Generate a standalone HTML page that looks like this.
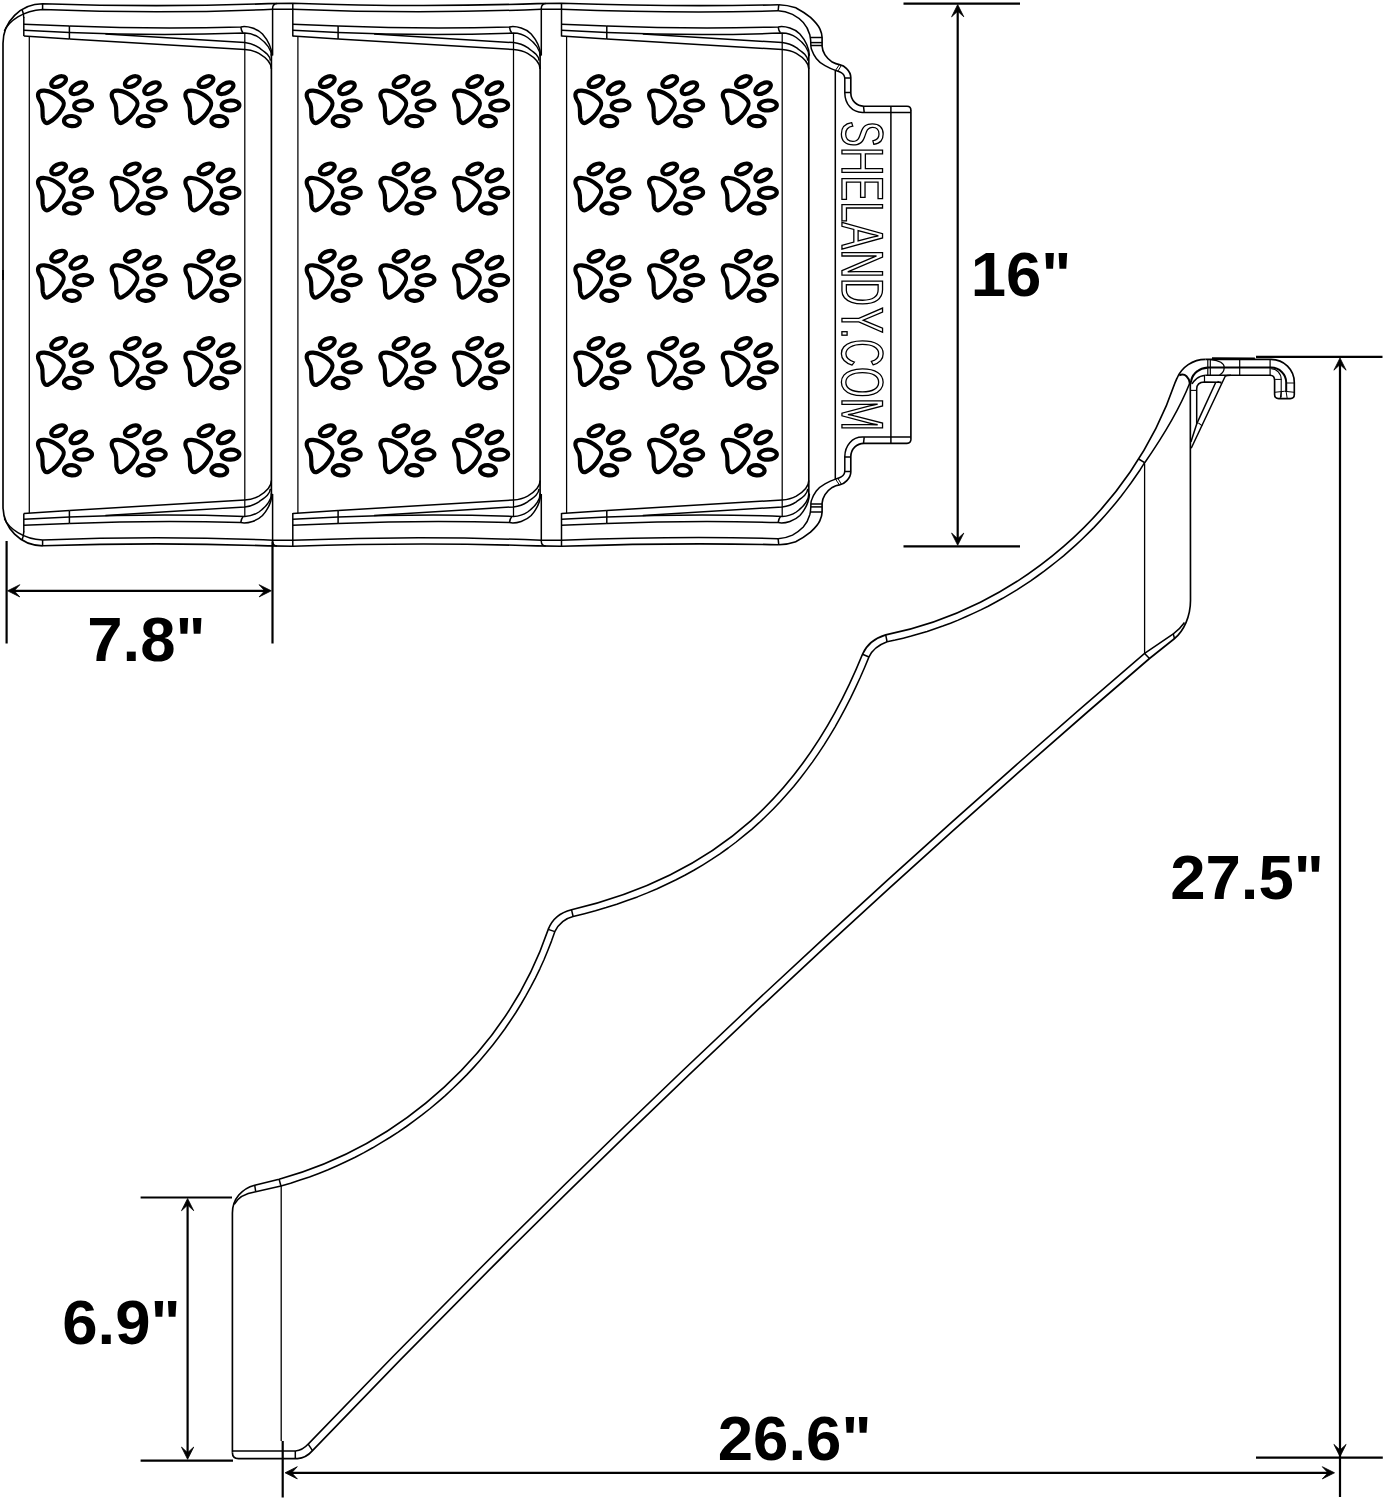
<!DOCTYPE html>
<html><head><meta charset="utf-8"><title>Pet ramp dimensions</title>
<style>html,body{margin:0;padding:0;background:#fff;overflow:hidden}svg{display:block;position:absolute;left:0;top:0}</style></head>
<body>
<svg width="1385" height="1500" viewBox="0 0 1385 1500" role="img" aria-label="Pet ramp dimension drawing: 16 in wide, 7.8 in per panel, 27.5 in high, 26.6 in long, 6.9 in base">
<defs>
<g id="paw" fill="none" stroke="#000" stroke-width="4.2" stroke-linejoin="round">
<ellipse cx="58.6" cy="81.6" rx="7.9" ry="4.5" transform="rotate(-27 58.6 81.6)"/>
<ellipse cx="78.3" cy="88.2" rx="8.5" ry="4.6" transform="rotate(-30 78.3 88.2)"/>
<ellipse cx="83.1" cy="105.5" rx="8.9" ry="5.0" transform="rotate(-3 83.1 105.5)"/>
<ellipse cx="71.9" cy="121.1" rx="7.9" ry="5.1" transform="rotate(4 71.9 121.1)"/>
<path d="M38.1,96.3 C37.4,91.6 40.5,90.4 44.5,90.7 C50.5,91.1 57.5,95.3 61.3,98.8 C65,102.2 64.3,104.8 62.3,108.5 C58.3,116 53,120.3 48.5,122.6 C45.5,124 43.5,121.5 42.8,117.5 C42.2,113 43.2,108.5 41.7,104 C40.7,101.3 38.7,99.8 38.1,96.3 Z"/>
</g></defs>
<rect width="100%" height="100%" fill="#fff"/>
<g fill="none" stroke="#000" stroke-linecap="butt" stroke-linejoin="round">
<line x1="23.8" y1="17.3" x2="23.8" y2="35.9" stroke-width="1.5" />
<line x1="23.8" y1="24.3" x2="69.4" y2="26" stroke-width="1.5" />
<line x1="23.8" y1="30.3" x2="69.4" y2="32.5" stroke-width="1.5" />
<line x1="23.8" y1="35.9" x2="69.4" y2="39" stroke-width="1.5" />
<line x1="69.4" y1="26" x2="69.4" y2="39" stroke-width="1.5" />
<path d="M69.4,26 Q157.1,29.3 240.8,26.9 C247.8,25.6 257.8,29 262.5,33.9 C267.8,40 271.7,48 272,55.6" stroke-width="1.5" />
<path d="M69.4,32.5 Q157.1,36.3 244.8,33.1 C252.8,33.3 258.9,37.5 258.9,37.5 C265.8,42.5 271.4,49 271.5,56.3" stroke-width="1.5" />
<path d="M105.4,33.9 L244.8,42.6 C252.8,43.5 258.9,47.7 258.9,47.7 C264.8,52 269.9,55 270.4,60.6" stroke-width="1.5" />
<path d="M69.4,39 L244.8,49.5 C252.8,50 258.9,53.4 258.9,53.4 C265.8,57.5 271.4,62 271.4,69" stroke-width="1.5" />
<path d="M240.8,27.1 Q241.3,31 243,32.8" stroke-width="1.5" />
<line x1="23.8" y1="532.2" x2="23.8" y2="513.6" stroke-width="1.5" />
<line x1="23.8" y1="525.2" x2="69.4" y2="523.5" stroke-width="1.5" />
<line x1="23.8" y1="519.2" x2="69.4" y2="517" stroke-width="1.5" />
<line x1="23.8" y1="513.6" x2="69.4" y2="510.5" stroke-width="1.5" />
<line x1="69.4" y1="523.5" x2="69.4" y2="510.5" stroke-width="1.5" />
<path d="M69.4,523.5 Q157.1,520.2 240.8,522.6 C247.8,523.9 257.8,520.5 262.5,515.6 C267.8,509.5 271.7,501.5 272,493.9" stroke-width="1.5" />
<path d="M69.4,517 Q157.1,513.2 244.8,516.4 C252.8,516.2 258.9,512 258.9,512 C265.8,507 271.4,500.5 271.5,493.2" stroke-width="1.5" />
<path d="M105.4,515.6 L244.8,506.9 C252.8,506 258.9,501.8 258.9,501.8 C264.8,497.5 269.9,494.5 270.4,488.9" stroke-width="1.5" />
<path d="M69.4,510.5 L244.8,500 C252.8,499.5 258.9,496.1 258.9,496.1 C265.8,492 271.4,487.5 271.4,480.5" stroke-width="1.5" />
<path d="M240.8,522.4 Q241.3,518.5 243,516.7" stroke-width="1.5" />
<line x1="29.3" y1="36.4" x2="29.3" y2="513.1" stroke-width="1.25" />
<line x1="244.8" y1="33.2" x2="244.8" y2="516.3" stroke-width="1.25" />
<line x1="271.4" y1="54" x2="271.4" y2="495.5" stroke-width="1.65" />
<line x1="292.8" y1="24.3" x2="338.1" y2="26" stroke-width="1.5" />
<line x1="292.8" y1="30.3" x2="338.1" y2="32.5" stroke-width="1.5" />
<line x1="292.8" y1="35.9" x2="338.1" y2="39" stroke-width="1.5" />
<line x1="338.1" y1="26" x2="338.1" y2="39" stroke-width="1.5" />
<path d="M338.1,26 Q425.8,29.3 509.5,26.9 C516.5,25.6 526.5,29 531.2,33.9 C536.5,40 540.4,48 540.7,55.6" stroke-width="1.5" />
<path d="M338.1,32.5 Q425.8,36.3 513.5,33.1 C521.5,33.3 527.6,37.5 527.6,37.5 C534.5,42.5 540.1,49 540.2,56.3" stroke-width="1.5" />
<path d="M374.1,33.9 L513.5,42.6 C521.5,43.5 527.6,47.7 527.6,47.7 C533.5,52 538.6,55 539.1,60.6" stroke-width="1.5" />
<path d="M338.1,39 L513.5,49.5 C521.5,50 527.6,53.4 527.6,53.4 C534.5,57.5 540.1,62 540.1,69" stroke-width="1.5" />
<path d="M509.5,27.1 Q510,31 511.7,32.8" stroke-width="1.5" />
<line x1="292.8" y1="525.2" x2="338.1" y2="523.5" stroke-width="1.5" />
<line x1="292.8" y1="519.2" x2="338.1" y2="517" stroke-width="1.5" />
<line x1="292.8" y1="513.6" x2="338.1" y2="510.5" stroke-width="1.5" />
<line x1="338.1" y1="523.5" x2="338.1" y2="510.5" stroke-width="1.5" />
<path d="M338.1,523.5 Q425.8,520.2 509.5,522.6 C516.5,523.9 526.5,520.5 531.2,515.6 C536.5,509.5 540.4,501.5 540.7,493.9" stroke-width="1.5" />
<path d="M338.1,517 Q425.8,513.2 513.5,516.4 C521.5,516.2 527.6,512 527.6,512 C534.5,507 540.1,500.5 540.2,493.2" stroke-width="1.5" />
<path d="M374.1,515.6 L513.5,506.9 C521.5,506 527.6,501.8 527.6,501.8 C533.5,497.5 538.6,494.5 539.1,488.9" stroke-width="1.5" />
<path d="M338.1,510.5 L513.5,500 C521.5,499.5 527.6,496.1 527.6,496.1 C534.5,492 540.1,487.5 540.1,480.5" stroke-width="1.5" />
<path d="M509.5,522.4 Q510,518.5 511.7,516.7" stroke-width="1.5" />
<line x1="297.9" y1="36.4" x2="297.9" y2="513.1" stroke-width="1.25" />
<line x1="513.5" y1="33.2" x2="513.5" y2="516.3" stroke-width="1.25" />
<line x1="540.1" y1="54" x2="540.1" y2="495.5" stroke-width="1.65" />
<line x1="561.5" y1="24.3" x2="606.8" y2="26" stroke-width="1.5" />
<line x1="561.5" y1="30.3" x2="606.8" y2="32.5" stroke-width="1.5" />
<line x1="561.5" y1="35.9" x2="606.8" y2="39" stroke-width="1.5" />
<line x1="606.8" y1="26" x2="606.8" y2="39" stroke-width="1.5" />
<path d="M606.8,26 Q694.5,29.3 778.2,26.9 C785.2,25.6 795.2,29 799.9,33.9 C805.2,40 809.1,48 809.4,55.6" stroke-width="1.5" />
<path d="M606.8,32.5 Q694.5,36.3 782.2,33.1 C790.2,33.3 796.3,37.5 796.3,37.5 C803.2,42.5 808.8,49 808.9,56.3" stroke-width="1.5" />
<path d="M642.8,33.9 L782.2,42.6 C790.2,43.5 796.3,47.7 796.3,47.7 C802.2,52 807.3,55 807.8,60.6" stroke-width="1.5" />
<path d="M606.8,39 L782.2,49.5 C790.2,50 796.3,53.4 796.3,53.4 C803.2,57.5 808.8,62 808.8,69" stroke-width="1.5" />
<path d="M778.2,27.1 Q778.7,31 780.4,32.8" stroke-width="1.5" />
<line x1="561.5" y1="525.2" x2="606.8" y2="523.5" stroke-width="1.5" />
<line x1="561.5" y1="519.2" x2="606.8" y2="517" stroke-width="1.5" />
<line x1="561.5" y1="513.6" x2="606.8" y2="510.5" stroke-width="1.5" />
<line x1="606.8" y1="523.5" x2="606.8" y2="510.5" stroke-width="1.5" />
<path d="M606.8,523.5 Q694.5,520.2 778.2,522.6 C785.2,523.9 795.2,520.5 799.9,515.6 C805.2,509.5 809.1,501.5 809.4,493.9" stroke-width="1.5" />
<path d="M606.8,517 Q694.5,513.2 782.2,516.4 C790.2,516.2 796.3,512 796.3,512 C803.2,507 808.8,500.5 808.9,493.2" stroke-width="1.5" />
<path d="M642.8,515.6 L782.2,506.9 C790.2,506 796.3,501.8 796.3,501.8 C802.2,497.5 807.3,494.5 807.8,488.9" stroke-width="1.5" />
<path d="M606.8,510.5 L782.2,500 C790.2,499.5 796.3,496.1 796.3,496.1 C803.2,492 808.8,487.5 808.8,480.5" stroke-width="1.5" />
<path d="M778.2,522.4 Q778.7,518.5 780.4,516.7" stroke-width="1.5" />
<line x1="566.6" y1="36.4" x2="566.6" y2="513.1" stroke-width="1.25" />
<line x1="782.2" y1="33.2" x2="782.2" y2="516.3" stroke-width="1.25" />
<line x1="808.8" y1="54" x2="808.8" y2="495.5" stroke-width="1.65" />
<path d="M3.0,275 L3.0,43.3 A39.6,39.6 0 0 1 42.6,3.7 Q160,7.6 268,3.6 L292.8,3.2 Q420,7.6 537,3.6 L561.4,3.2 Q680,7.2 778.8,4.7" stroke-width="1.65" />
<path d="M778.8,4.7 C788,4.9 796,7.9 796.1,7.9 C803,11.5 807,14.5 810.5,17.3 C815.5,22 818.5,25.5 819.9,28.9 C821.5,32.5 822.1,35 822.1,37.5 L822.1,46.2 C822.3,50 823.5,52.5 825,54.9 C827,58 829.5,60.3 832.2,62.1 C835,63.6 837.5,64.3 839.4,64.6 C843,65.3 845,66.8 846.6,68.6 C849,71 850.8,73.5 850.8,77.5 L850.8,93 C851,100.5 856.5,106.2 864,106.2 L907,106.2 Q910.9,106.2 910.9,110.2" stroke-width="1.65" />
<path d="M4.3,31 C9,21 23,10.5 42.6,9.4 Q160,14.3 272.6,9.2 L292.8,9.2 Q420,14.3 541.3,9.2 L561.4,9.2 Q680,13.6 778.1,10.8" stroke-width="1.5" />
<path d="M778.1,10.8 C785,11 792.5,14.4 792.5,14.4 C797,16.8 800.5,19.5 803.3,22.4 C806.5,26 808.5,30 809.8,34.7 C810.6,38 810.9,42 810.9,46.2 C811,48 811.4,49.3 812,50.5 C813,53.5 814.5,56 816.3,58.5 C818.5,61.5 821.5,63.8 825,65.7 C828.5,67.7 832,69.3 835.5,70.4 C838,71.2 840,71.8 841.6,72.9 C843.8,74.3 844.8,76 844.8,79 L844.8,93 C845,104 852,112.4 862.4,112.4 L910.9,112.4" stroke-width="1.5" />
<line x1="42.6" y1="3.7" x2="42.6" y2="9.4" stroke-width="1.5" />
<path d="M22,9.4 Q23.6,13 23.8,18" stroke-width="1.5" />
<line x1="778.8" y1="4.7" x2="778.1" y2="10.8" stroke-width="1.5" />
<line x1="810.8" y1="37.5" x2="822.1" y2="37.5" stroke-width="1.5" />
<line x1="810.8" y1="42.6" x2="822.1" y2="42.6" stroke-width="1.5" />
<line x1="810.8" y1="45.5" x2="822.1" y2="45.5" stroke-width="1.5" />
<line x1="839.4" y1="64.6" x2="835.5" y2="70.4" stroke-width="1.0" />
<line x1="841.5" y1="65" x2="838" y2="71" stroke-width="1.0" />
<line x1="844.8" y1="78" x2="850.8" y2="78" stroke-width="1.5" />
<line x1="844.8" y1="92.5" x2="850.8" y2="92.5" stroke-width="1.5" />
<line x1="863.5" y1="106.2" x2="864.2" y2="112.4" stroke-width="1.5" />
<path d="M272.6,55.6 L272.6,8 Q272.8,3.8 277,3.4" stroke-width="1.5" />
<line x1="292.8" y1="3.2" x2="292.8" y2="36.5" stroke-width="1.5" />
<path d="M541.3,55.6 L541.3,8 Q541.5,3.8 545.7,3.4" stroke-width="1.5" />
<line x1="561.5" y1="3.2" x2="561.5" y2="36.5" stroke-width="1.5" />
<path d="M3.0,274.5 L3.0,506.2 A39.6,39.6 0 0 0 42.6,545.8 Q160,541.9 268,545.9 L292.8,546.3 Q420,541.9 537,545.9 L561.4,546.3 Q680,542.3 778.8,544.8" stroke-width="1.65" />
<path d="M778.8,544.8 C788,544.6 796,541.6 796.1,541.6 C803,538 807,535 810.5,532.2 C815.5,527.5 818.5,524 819.9,520.6 C821.5,517 822.1,514.5 822.1,512 L822.1,503.3 C822.3,499.5 823.5,497 825,494.6 C827,491.5 829.5,489.2 832.2,487.4 C835,485.9 837.5,485.2 839.4,484.9 C843,484.2 845,482.7 846.6,480.9 C849,478.5 850.8,476 850.8,472 L850.8,456.5 C851,449 856.5,443.3 864,443.3 L907,443.3 Q910.9,443.3 910.9,439.3" stroke-width="1.65" />
<path d="M4.3,518.5 C9,528.5 23,539 42.6,540.1 Q160,535.2 272.6,540.3 L292.8,540.3 Q420,535.2 541.3,540.3 L561.4,540.3 Q680,535.9 778.1,538.7" stroke-width="1.5" />
<path d="M778.1,538.7 C785,538.5 792.5,535.1 792.5,535.1 C797,532.7 800.5,530 803.3,527.1 C806.5,523.5 808.5,519.5 809.8,514.8 C810.6,511.5 810.9,507.5 810.9,503.3 C811,501.5 811.4,500.2 812,499 C813,496 814.5,493.5 816.3,491 C818.5,488 821.5,485.7 825,483.8 C828.5,481.8 832,480.2 835.5,479.1 C838,478.3 840,477.7 841.6,476.6 C843.8,475.2 844.8,473.5 844.8,470.5 L844.8,456.5 C845,445.5 852,437.1 862.4,437.1 L910.9,437.1" stroke-width="1.5" />
<line x1="42.6" y1="545.8" x2="42.6" y2="540.1" stroke-width="1.5" />
<path d="M22,540.1 Q23.6,536.5 23.8,531.5" stroke-width="1.5" />
<line x1="778.8" y1="544.8" x2="778.1" y2="538.7" stroke-width="1.5" />
<line x1="810.8" y1="512" x2="822.1" y2="512" stroke-width="1.5" />
<line x1="810.8" y1="506.9" x2="822.1" y2="506.9" stroke-width="1.5" />
<line x1="810.8" y1="504" x2="822.1" y2="504" stroke-width="1.5" />
<line x1="839.4" y1="484.9" x2="835.5" y2="479.1" stroke-width="1.0" />
<line x1="841.5" y1="484.5" x2="838" y2="478.5" stroke-width="1.0" />
<line x1="844.8" y1="471.5" x2="850.8" y2="471.5" stroke-width="1.5" />
<line x1="844.8" y1="457" x2="850.8" y2="457" stroke-width="1.5" />
<line x1="863.5" y1="443.3" x2="864.2" y2="437.1" stroke-width="1.5" />
<path d="M272.6,493.9 L272.6,541.5 Q272.8,545.7 277,546.1" stroke-width="1.5" />
<line x1="292.8" y1="546.3" x2="292.8" y2="513" stroke-width="1.5" />
<path d="M541.3,493.9 L541.3,541.5 Q541.5,545.7 545.7,546.1" stroke-width="1.5" />
<line x1="561.5" y1="546.3" x2="561.5" y2="513" stroke-width="1.5" />
<line x1="3" y1="270" x2="3" y2="280" stroke-width="1.65" />
<line x1="910.9" y1="110" x2="910.9" y2="439.5" stroke-width="1.65" />
<line x1="890.9" y1="106.2" x2="890.9" y2="443.3" stroke-width="1.5" />
<line x1="835.3" y1="70.4" x2="835.3" y2="479.1" stroke-width="1.5" />
</g>
<use href="#paw" x="0.0" y="0.0"/>
<use href="#paw" x="73.7" y="0.0"/>
<use href="#paw" x="147.4" y="0.0"/>
<use href="#paw" x="0.0" y="87.3"/>
<use href="#paw" x="73.7" y="87.3"/>
<use href="#paw" x="147.4" y="87.3"/>
<use href="#paw" x="0.0" y="174.6"/>
<use href="#paw" x="73.7" y="174.6"/>
<use href="#paw" x="147.4" y="174.6"/>
<use href="#paw" x="0.0" y="261.9"/>
<use href="#paw" x="73.7" y="261.9"/>
<use href="#paw" x="147.4" y="261.9"/>
<use href="#paw" x="0.0" y="349.2"/>
<use href="#paw" x="73.7" y="349.2"/>
<use href="#paw" x="147.4" y="349.2"/>
<use href="#paw" x="268.7" y="0.0"/>
<use href="#paw" x="342.4" y="0.0"/>
<use href="#paw" x="416.1" y="0.0"/>
<use href="#paw" x="268.7" y="87.3"/>
<use href="#paw" x="342.4" y="87.3"/>
<use href="#paw" x="416.1" y="87.3"/>
<use href="#paw" x="268.7" y="174.6"/>
<use href="#paw" x="342.4" y="174.6"/>
<use href="#paw" x="416.1" y="174.6"/>
<use href="#paw" x="268.7" y="261.9"/>
<use href="#paw" x="342.4" y="261.9"/>
<use href="#paw" x="416.1" y="261.9"/>
<use href="#paw" x="268.7" y="349.2"/>
<use href="#paw" x="342.4" y="349.2"/>
<use href="#paw" x="416.1" y="349.2"/>
<use href="#paw" x="537.4" y="0.0"/>
<use href="#paw" x="611.1" y="0.0"/>
<use href="#paw" x="684.8" y="0.0"/>
<use href="#paw" x="537.4" y="87.3"/>
<use href="#paw" x="611.1" y="87.3"/>
<use href="#paw" x="684.8" y="87.3"/>
<use href="#paw" x="537.4" y="174.6"/>
<use href="#paw" x="611.1" y="174.6"/>
<use href="#paw" x="684.8" y="174.6"/>
<use href="#paw" x="537.4" y="261.9"/>
<use href="#paw" x="611.1" y="261.9"/>
<use href="#paw" x="684.8" y="261.9"/>
<use href="#paw" x="537.4" y="349.2"/>
<use href="#paw" x="611.1" y="349.2"/>
<use href="#paw" x="684.8" y="349.2"/>
<g fill="#fff" stroke="#000" stroke-width="1.3" stroke-linejoin="miter"><title>SHELANDY.COM</title>
<path transform="translate(841.95,120.89) rotate(90) scale(0.018914,-0.028809)" vector-effect="non-scaling-stroke" d="M1272 389Q1272 194 1119.5 87Q967 -20 690 -20Q175 -20 93 338L278 375Q310 248 414 188.5Q518 129 697 129Q882 129 982.5 192.5Q1083 256 1083 379Q1083 448 1051.5 491Q1020 534 963 562Q906 590 827 609Q748 628 652 650Q485 687 398.5 724Q312 761 262 806.5Q212 852 185.5 913Q159 974 159 1053Q159 1234 297.5 1332Q436 1430 694 1430Q934 1430 1061 1356.5Q1188 1283 1239 1106L1051 1073Q1020 1185 933 1235.5Q846 1286 692 1286Q523 1286 434 1230Q345 1174 345 1063Q345 998 379.5 955.5Q414 913 479 883.5Q544 854 738 811Q803 796 867.5 780.5Q932 765 991 743.5Q1050 722 1101.5 693Q1153 664 1191 622Q1229 580 1250.5 523Q1272 466 1272 389Z"/>
<path transform="translate(841.95,146.89) rotate(90) scale(0.019406,-0.028809)" vector-effect="non-scaling-stroke" d="M1121 0V653H359V0H168V1409H359V813H1121V1409H1312V0Z"/>
<path transform="translate(841.95,175.4) rotate(90) scale(0.018739,-0.028809)" vector-effect="non-scaling-stroke" d="M168 0V1409H1237V1253H359V801H1177V647H359V156H1278V0Z"/>
<path transform="translate(841.95,201.52) rotate(90) scale(0.018051,-0.028809)" vector-effect="non-scaling-stroke" d="M168 0V1409H359V156H1071V0Z"/>
<path transform="translate(841.95,222.27) rotate(90) scale(0.019735,-0.028809)" vector-effect="non-scaling-stroke" d="M1167 0 1006 412H364L202 0H4L579 1409H796L1362 0ZM685 1265 676 1237Q651 1154 602 1024L422 561H949L768 1026Q740 1095 712 1182Z"/>
<path transform="translate(841.95,249.36) rotate(90) scale(0.019580,-0.028809)" vector-effect="non-scaling-stroke" d="M1082 0 328 1200 333 1103 338 936V0H168V1409H390L1152 201Q1140 397 1140 485V1409H1312V0Z"/>
<path transform="translate(841.95,278.01) rotate(90) scale(0.018714,-0.028809)" vector-effect="non-scaling-stroke" d="M1381 719Q1381 501 1296 337.5Q1211 174 1055 87Q899 0 695 0H168V1409H634Q992 1409 1186.5 1229.5Q1381 1050 1381 719ZM1189 719Q1189 981 1045.5 1118.5Q902 1256 630 1256H359V153H673Q828 153 945.5 221Q1063 289 1126 417Q1189 545 1189 719Z"/>
<path transform="translate(841.95,307.2) rotate(90) scale(0.018966,-0.028809)" vector-effect="non-scaling-stroke" d="M777 584V0H587V584L45 1409H255L684 738L1111 1409H1321Z"/>
<rect x="841.9" y="331.7" width="5.2" height="3.5"/>
<path transform="translate(841.95,338.91) rotate(90) scale(0.018658,-0.028809)" vector-effect="non-scaling-stroke" d="M792 1274Q558 1274 428 1123.5Q298 973 298 711Q298 452 433.5 294.5Q569 137 800 137Q1096 137 1245 430L1401 352Q1314 170 1156.5 75Q999 -20 791 -20Q578 -20 422.5 68.5Q267 157 185.5 321.5Q104 486 104 711Q104 1048 286 1239Q468 1430 790 1430Q1015 1430 1166 1342Q1317 1254 1388 1081L1207 1021Q1158 1144 1049.5 1209Q941 1274 792 1274Z"/>
<path transform="translate(841.95,367.1) rotate(90) scale(0.019099,-0.028809)" vector-effect="non-scaling-stroke" d="M1495 711Q1495 490 1410.5 324Q1326 158 1168 69Q1010 -20 795 -20Q578 -20 420.5 68Q263 156 180 322.5Q97 489 97 711Q97 1049 282 1239.5Q467 1430 797 1430Q1012 1430 1170 1344.5Q1328 1259 1411.5 1096Q1495 933 1495 711ZM1300 711Q1300 974 1168.5 1124Q1037 1274 797 1274Q555 1274 423 1126Q291 978 291 711Q291 446 424.5 290.5Q558 135 795 135Q1039 135 1169.5 285.5Q1300 436 1300 711Z"/>
<path transform="translate(841.95,397.64) rotate(90) scale(0.019708,-0.028809)" vector-effect="non-scaling-stroke" d="M1366 0V940Q1366 1096 1375 1240Q1326 1061 1287 960L923 0H789L420 960L364 1130L331 1240L334 1129L338 940V0H168V1409H419L794 432Q814 373 832.5 305.5Q851 238 857 208Q865 248 890.5 329.5Q916 411 925 432L1293 1409H1538V0Z"/>
</g>
<g fill="none" stroke="#000" stroke-linecap="butt" stroke-linejoin="round">
<line x1="903.5" y1="3.6" x2="1020" y2="3.6" stroke-width="2.2" />
<line x1="903.5" y1="546.3" x2="1020" y2="546.3" stroke-width="2.2" />
<line x1="957.7" y1="8" x2="957.7" y2="541" stroke-width="2.2" />
<path d="M957.7,4.6 L963.8,16.8 L957.7,11.2 L951.6,16.8 Z" fill="#000" stroke="#000" stroke-width="0.8" stroke-linejoin="miter"/>
<path d="M957.7,545.3 L951.6,533.1 L957.7,538.7 L963.8,533.1 Z" fill="#000" stroke="#000" stroke-width="0.8" stroke-linejoin="miter"/>
<line x1="6.6" y1="541" x2="6.6" y2="643.5" stroke-width="2.2" />
<line x1="272.5" y1="541.5" x2="272.5" y2="643.5" stroke-width="2.2" />
<line x1="11" y1="590.8" x2="268" y2="590.8" stroke-width="2.2" />
<path d="M7.6,590.8 L19.8,584.7 L14.2,590.8 L19.8,596.9 Z" fill="#000" stroke="#000" stroke-width="0.8" stroke-linejoin="miter"/>
<path d="M271.3,590.8 L259.1,596.9 L264.7,590.8 L259.1,584.7 Z" fill="#000" stroke="#000" stroke-width="0.8" stroke-linejoin="miter"/>
<line x1="140.6" y1="1197.5" x2="232" y2="1197.5" stroke-width="2.2" />
<line x1="140.6" y1="1460.7" x2="233" y2="1460.7" stroke-width="2.2" />
<line x1="187.6" y1="1202" x2="187.6" y2="1456" stroke-width="2.2" />
<path d="M187.6,1198.5 L193.7,1210.7 L187.6,1205.1 L181.5,1210.7 Z" fill="#000" stroke="#000" stroke-width="0.8" stroke-linejoin="miter"/>
<path d="M187.6,1459.3 L181.5,1447.1 L187.6,1452.7 L193.7,1447.1 Z" fill="#000" stroke="#000" stroke-width="0.8" stroke-linejoin="miter"/>
<line x1="282.7" y1="1441" x2="282.7" y2="1497.5" stroke-width="2.2" />
<line x1="290" y1="1472.8" x2="1330" y2="1472.8" stroke-width="2.2" />
<path d="M285.1,1472.8 L297.3,1466.7 L291.7,1472.8 L297.3,1478.9 Z" fill="#000" stroke="#000" stroke-width="0.8" stroke-linejoin="miter"/>
<path d="M1334.5,1472.8 L1322.3,1478.9 L1327.9,1472.8 L1322.3,1466.7 Z" fill="#000" stroke="#000" stroke-width="0.8" stroke-linejoin="miter"/>
<line x1="1256" y1="356.8" x2="1382.5" y2="356.8" stroke-width="2.2" />
<line x1="1256" y1="1457.7" x2="1382.8" y2="1457.7" stroke-width="2.2" />
<line x1="1340" y1="361" x2="1340" y2="1497" stroke-width="2.2" />
<path d="M1340.0,358.0 L1346.1,370.2 L1340.0,364.6 L1333.9,370.2 Z" fill="#000" stroke="#000" stroke-width="0.8" stroke-linejoin="miter"/>
<path d="M1340.0,1456.6 L1333.9,1444.4 L1340.0,1450.0 L1346.1,1444.4 Z" fill="#000" stroke="#000" stroke-width="0.8" stroke-linejoin="miter"/>
<path d="M232.4,1452.5 L232.4,1213 C232.4,1199 242,1188.5 254.7,1185.2 L279.1,1179.2 C402.0,1145.1 506.8,1050.9 548.2,929.4 C552,919.5 560,912.5 571.5,909.7 C717.5,875.2 806.5,792.2 862.5,654.3 C866.5,645 874.5,638.3 885.7,634.9 C1017.3,608.7 1132.2,509.5 1175.2,382.3 L1176.8,378.7 A31,31 0 0 1 1205.5,359.4" stroke-width="1.65" />
<path d="M234.2,1204.5 C238,1197 246,1193.2 255.7,1191.7 L281.0,1185.9 L290.6,1183.2 L300.1,1180.1 L309.5,1176.9 L318.8,1173.4 L328.1,1169.7 L337.2,1165.7 L346.3,1161.5 L355.2,1157.2 L364.0,1152.6 L372.7,1147.8 L381.3,1142.7 L389.8,1137.5 L398.2,1132.1 L406.4,1126.5 L414.4,1120.7 L422.4,1114.7 L430.2,1108.5 L437.8,1102.1 L445.3,1095.6 L452.6,1088.8 L459.7,1081.9 L466.7,1074.9 L473.5,1067.6 L480.1,1060.2 L486.6,1052.6 L492.8,1044.9 L498.9,1037.0 L504.8,1029.0 L510.4,1020.8 L515.9,1012.5 L521.1,1004.0 L526.1,995.4 L530.9,986.7 L535.5,977.8 L539.9,968.8 L544.0,959.7 L547.8,950.5 L551.5,941.1 L554.8,931.7 C558.5,924 565,918.5 573.1,916.5 L584.4,913.7 L595.4,910.8 L606.2,907.6 L616.8,904.2 L627.2,900.6 L637.4,896.9 L647.4,892.9 L657.2,888.7 L666.7,884.3 L676.1,879.8 L685.3,875.0 L694.3,870.0 L703.0,864.8 L711.6,859.4 L720.0,853.8 L728.2,848.0 L736.2,842.0 L744.0,835.7 L751.7,829.3 L759.1,822.7 L766.4,815.8 L773.5,808.8 L780.4,801.5 L787.1,794.0 L793.7,786.4 L800.1,778.5 L806.3,770.4 L812.4,762.1 L818.3,753.6 L824.1,744.9 L829.7,735.9 L835.1,726.8 L840.4,717.4 L845.5,707.9 L850.5,698.1 L855.3,688.1 L860.0,678.0 L864.6,667.5 L869.0,656.9 C872.5,649.5 879,644.8 887.1,641.8 L895.2,640.1 L903.2,638.2 L911.3,636.1 L919.2,633.8 L927.1,631.4 L935.0,628.8 L942.8,626.1 L950.5,623.2 L958.2,620.1 L965.8,616.8 L973.3,613.4 L980.8,609.9 L988.2,606.2 L995.5,602.3 L1002.7,598.3 L1009.8,594.1 L1016.9,589.8 L1023.8,585.4 L1030.7,580.8 L1037.5,576.0 L1044.2,571.2 L1050.7,566.2 L1057.2,561.0 L1063.6,555.8 L1069.8,550.4 L1076.0,544.8 L1082.0,539.2 L1088.0,533.4 L1093.8,527.6 L1099.4,521.6 L1105.0,515.4 L1110.4,509.2 L1115.7,502.9 L1120.9,496.5 L1125.9,489.9 L1130.8,483.3 L1135.5,476.5 L1140.2,469.7 L1144.6,462.7 L1144.4,463.2 C1161.9,438.0 1178.5,411.6 1189.8,383.0" stroke-width="1.55" />
<line x1="254.7" y1="1185.2" x2="255.7" y2="1191.7" stroke-width="1.5" />
<line x1="279.1" y1="1179.2" x2="280.97" y2="1185.95" stroke-width="1.5" />
<line x1="548.2" y1="929.4" x2="554.83" y2="931.66" stroke-width="1.5" />
<line x1="571.5" y1="909.7" x2="573.11" y2="916.51" stroke-width="1.5" />
<line x1="862.5" y1="654.3" x2="868.99" y2="656.93" stroke-width="1.5" />
<line x1="885.7" y1="634.9" x2="887.07" y2="641.76" stroke-width="1.5" />
<line x1="1138.68" y1="458.99" x2="1144.61" y2="462.71" stroke-width="1.5" />
<path d="M232.4,1452.5 Q232.4,1458.6 238.5,1458.6 L297.5,1458.6 Q306,1458 312.5,1450.6 A11680,11680 0 0 1 1149.5,658.5 L1174,639 C1184,631 1190.5,616 1190.5,600.5 L1190.3,385" stroke-width="1.65" />
<path d="M232.7,1451 L295.5,1451 Q302.5,1450.5 308.2,1444.1 A11672,11672 0 0 1 1144.6,653.4 L1173.3,633.9 Q1179.5,629.5 1184.5,622.5" stroke-width="1.55" />
<line x1="295.3" y1="1451" x2="295.3" y2="1458.6" stroke-width="1.5" />
<line x1="308.2" y1="1444.1" x2="312.5" y2="1450.6" stroke-width="1.5" />
<line x1="1144.6" y1="653.4" x2="1149.5" y2="658.5" stroke-width="1.5" />
<line x1="1173.3" y1="633.9" x2="1174.5" y2="638.6" stroke-width="1.5" />
<line x1="281.2" y1="1185.8" x2="281.2" y2="1441" stroke-width="1.3" />
<line x1="1144.6" y1="464" x2="1144.6" y2="653.4" stroke-width="1.3" />
<path d="M1205.5,359.4 L1271.1,359.4 A23.2,23.1 0 0 1 1294.3,382.5 L1294.3,394.6 Q1294.3,398.6 1290.3,398.6 L1278.7,398.6 Q1274.6,398.6 1274.6,394.6 L1274.6,380.4 Q1274.6,375.2 1270.1,375.2 L1205.5,375.2" stroke-width="1.65" />
<path d="M1207.5,367.6 L1271.1,367.6 A15.1,14.9 0 0 1 1286.2,382.5 L1286.2,392.1" stroke-width="2.0" />
<path d="M1271.1,368.8 A10.1,10.6 0 0 1 1281.2,379.4 L1281.2,397.6" stroke-width="1.1" />
<line x1="1207.8" y1="359.4" x2="1207.8" y2="375.2" stroke-width="1.2" />
<line x1="1210.3" y1="359.4" x2="1210.3" y2="375.2" stroke-width="1.2" />
<line x1="1239.7" y1="359.4" x2="1239.7" y2="375.2" stroke-width="1.2" />
<line x1="1270.1" y1="359.4" x2="1270.1" y2="375.2" stroke-width="1.2" />
<path d="M1211,359.6 C1219.5,360.3 1224.2,363.5 1224.2,367.3 C1224.2,371 1222.5,373.5 1219.6,375" stroke-width="1.3" />
<line x1="1275.1" y1="379.4" x2="1281.7" y2="379.4" stroke-width="1.0" />
<line x1="1286.7" y1="383" x2="1294.3" y2="383" stroke-width="1.0" />
<path d="M1274.6,392.3 Q1284.5,390.2 1294.3,392.3" stroke-width="1.0" />
<line x1="1281.2" y1="392" x2="1280.2" y2="398.4" stroke-width="1.0" />
<line x1="1286.2" y1="392" x2="1287.2" y2="398.4" stroke-width="1.0" />
<line x1="1212" y1="358.2" x2="1254.9" y2="358.6" stroke-width="2.1" />
<path d="M1207.5,367.6 C1203,368 1199.5,369.5 1197.4,371.2 C1194,373.8 1192,377 1191.3,380.3 L1189.9,385.4" stroke-width="2.1" />
<path d="M1205.5,375.2 C1201.5,375.5 1198.5,377 1196.4,378.8 C1194.3,380.5 1193,382 1192,384" stroke-width="1.5" />
<path d="M1179.2,375.4 C1181.5,374.3 1184.5,374.4 1186.5,376.2 C1188.5,378 1189.5,380.5 1189.9,383.5" stroke-width="2.0" />
<path d="M1231,375.2 Q1226.5,375.2 1225.2,376.2 L1191.2,448.2" stroke-width="1.5" />
<path d="M1221.5,382.2 L1204.5,382.1 C1200,382.3 1196.7,384.5 1196.7,389 L1196.7,424 L1190.9,442" stroke-width="1.5" />
<line x1="1215.8" y1="382.2" x2="1196.7" y2="423.9" stroke-width="1.5" />
<line x1="1198.3" y1="422.9" x2="1202.3" y2="425.9" stroke-width="1.1" />
<line x1="1217.6" y1="381.3" x2="1221.1" y2="383.4" stroke-width="1.1" />
<line x1="1190.7" y1="390.4" x2="1196.7" y2="390.4" stroke-width="1.1" />
<line x1="1204.5" y1="375.4" x2="1204.5" y2="382.1" stroke-width="1.2" />
</g>
<text x="970.7" y="295.6" font-family="Liberation Sans, sans-serif" font-weight="bold" font-size="63.5" fill="#000">16&quot;</text>
<text x="87.2" y="661.3" font-family="Liberation Sans, sans-serif" font-weight="bold" font-size="63.5" fill="#000">7.8&quot;</text>
<text x="1170.2" y="899.1" font-family="Liberation Sans, sans-serif" font-weight="bold" font-size="63.5" fill="#000">27.5&quot;</text>
<text x="62.2" y="1343.8" font-family="Liberation Sans, sans-serif" font-weight="bold" font-size="63.5" fill="#000">6.9&quot;</text>
<text x="717.8" y="1459.5" font-family="Liberation Sans, sans-serif" font-weight="bold" font-size="63.5" fill="#000">26.6&quot;</text>
</svg>
</body></html>
